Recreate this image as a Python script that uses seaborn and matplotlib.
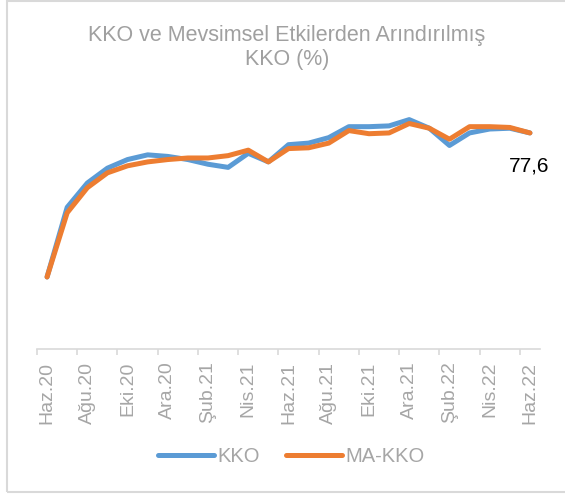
import matplotlib
matplotlib.use("Agg")
import matplotlib.pyplot as plt
import seaborn as sns
import pandas as pd
from matplotlib.patches import Rectangle
from matplotlib.ticker import FixedLocator
from matplotlib.lines import Line2D

months = ["Haz.20", "Tem.20", "Ağu.20", "Eyl.20", "Eki.20", "Kas.20", "Ara.20", "Oca.21",
          "Şub.21", "Mar.21", "Nis.21", "May.21", "Haz.21", "Tem.21", "Ağu.21", "Eyl.21",
          "Eki.21", "Kas.21", "Ara.21", "Oca.22", "Şub.22", "Mar.22", "Nis.22", "May.22", "Haz.22"]
kko = [59.2, 68.1, 71.2, 73.1, 74.2, 74.8, 74.6, 74.2, 73.6, 73.2, 75.0, 73.9, 76.1,
       76.3, 77.0, 78.4, 78.4, 78.5, 79.3, 78.2, 76.0, 77.6, 78.1, 78.2, 77.6]
ma_kko = [59.2, 67.4, 70.6, 72.5, 73.4, 73.9, 74.2, 74.4, 74.4, 74.7, 75.4, 73.9, 75.6,
          75.7, 76.3, 77.9, 77.5, 77.6, 78.8, 78.2, 76.8, 78.4, 78.4, 78.3, 77.6]
series_names = ["KKO", "MA-KKO"]
last_label = "77,6"

sns.set_theme(style="white")
plt.rcParams['font.family'] = ['Liberation Sans', 'DejaVu Sans']

df = pd.DataFrame({"idx": list(range(len(months))) * 2,
                   "value": kko + ma_kko,
                   "series": [series_names[0]] * len(kko) + [series_names[1]] * len(ma_kko)})

fig = plt.figure(figsize=(5.65, 4.95), dpi=100)
W, H = 565, 495
ax = fig.add_axes([37 / W, (H - 349) / H, (540 - 37) / W, (349 - 75) / H])

palette = {"KKO": "#5B9BD5", "MA-KKO": "#ED7D31"}
sns.lineplot(data=df, x="idx", y="value", hue="series", palette=palette, ax=ax,
             linewidth=3.6, legend=False, sort=False)
for ln in ax.get_lines():
    ln.set_solid_capstyle("round")
    ln.set_solid_joinstyle("round")

ax.set_xlim(-0.5, len(months) - 0.5)
ax.set_ylim(50, 85)
ax.set_xlabel("")
ax.set_ylabel("")
ax.set_yticks([])
for s in ["top", "right", "left"]:
    ax.spines[s].set_visible(False)
ax.spines["bottom"].set_color("#d9d9d9")
ax.spines["bottom"].set_linewidth(1.2)

major = [i - 0.5 for i in range(0, len(months), 2)]
ax.xaxis.set_major_locator(FixedLocator(major))
ax.set_xticklabels([""] * len(major))
minor = list(range(0, len(months), 2))
ax.xaxis.set_minor_locator(FixedLocator(minor))
ax.set_xticklabels([months[i] for i in minor], minor=True, rotation=90,
                   color="#a6a6a6", fontsize=14)
ax.tick_params(axis="x", which="major", length=4, width=1.2, color="#d9d9d9", bottom=True)
ax.tick_params(axis="x", which="minor", length=0, pad=9, bottom=True)

ax.annotate(last_label, xy=(len(months) - 1, kko[-1]), xytext=(-1, -33),
            textcoords="offset pixels",
            ha="center", va="center", fontsize=15, color="black")

fig.text(287 / W, 1 - 35 / H, "KKO ve Mevsimsel Etkilerden Arındırılmış",
         ha="center", va="center", fontsize=15.5, color="#a0a0a0")
fig.text(287 / W, 1 - 60 / H, "KKO (%)", ha="center", va="center",
         fontsize=15.5, color="#a0a0a0")

handles = [Line2D([0], [0], color=palette[n], lw=3.6, solid_capstyle="round") for n in series_names]
fig.legend(handles, series_names, loc="center", bbox_to_anchor=(291 / W, 1 - 457 / H),
           ncol=2, frameon=False, fontsize=14.5, labelcolor="#a6a6a6",
           handlelength=2.8, handletextpad=0.15, columnspacing=1.3)

fig.add_artist(Rectangle((7 / W, 3 / H), 1.2, 1 - 4 / H, transform=fig.transFigure,
                         fill=False, edgecolor="#d9d9d9", linewidth=1.5))

fig.savefig("out.png", dpi=100)
